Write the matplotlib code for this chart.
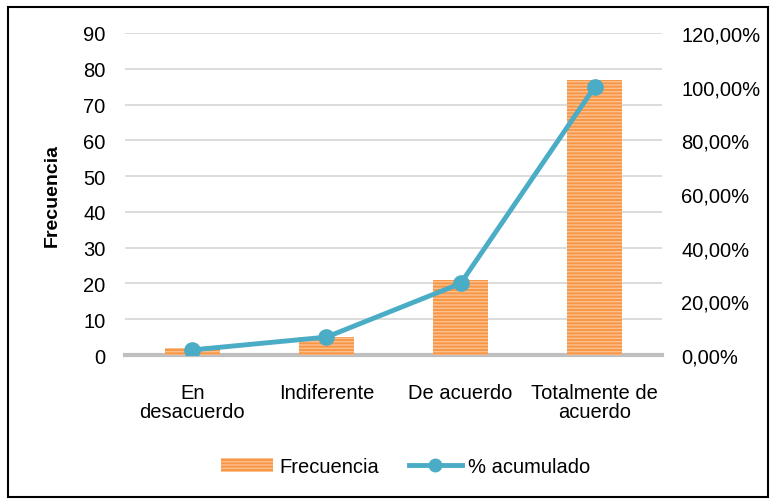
import matplotlib
matplotlib.use('Agg')
import matplotlib.pyplot as plt
from matplotlib.patches import Rectangle
from matplotlib.lines import Line2D
from matplotlib.ticker import FuncFormatter
import numpy as np

labels = ['En\ndesacuerdo', 'Indiferente', 'De acuerdo', 'Totalmente de\nacuerdo']
frecuencia = [2, 5, 21, 77]
acumulado = [1.90, 6.67, 26.67, 100.0]  # % acumulado

plt.rcParams['font.family'] = ['Liberation Sans', 'DejaVu Sans']
plt.rcParams['hatch.color'] = '#FCC08F'
plt.rcParams['hatch.linewidth'] = 1.0

orange = '#F79646'
teal = '#4BACC6'
fs = 14.5

fig = plt.figure(figsize=(7.75, 5.02), dpi=100)
ax = fig.add_axes([0.1613, 0.2908, 0.6929, 0.6415])

x = np.arange(len(labels))
ax.bar(x, frecuencia, 0.41, color=orange, hatch='-----', linewidth=0, zorder=2)
ax.set_xlim(-0.5, 3.5)
ax.set_ylim(0, 90)
ax.set_yticks(range(0, 91, 10))
ax.set_xticks(x)
ax.set_xticklabels(labels, fontsize=fs, linespacing=1.0)
ax.tick_params(axis='both', length=0, labelsize=fs, colors='black')
ax.tick_params(axis='x', pad=20)
ax.tick_params(axis='y', pad=14)
ax.grid(axis='y', color='#D9D9D9', linewidth=1.3, zorder=0)
ax.set_axisbelow(True)
for s in ['top', 'right', 'left']:
    ax.spines[s].set_visible(False)
ax.spines['bottom'].set_color('#BFBFBF')
ax.spines['bottom'].set_linewidth(3)
ax.spines['bottom'].set_zorder(1)
ax.set_ylabel('Frecuencia', fontsize=14, fontweight='bold', labelpad=16)

ax2 = ax.twinx()
ax2.plot(x, acumulado, color=teal, linewidth=3.5, marker='o', markersize=11, zorder=5)
ax2.set_ylim(0, 120)
ax2.set_yticks(range(0, 121, 20))
ax2.yaxis.set_major_formatter(FuncFormatter(lambda v, p: '{:.2f}%'.format(v).replace('.', ',')))
ax2.tick_params(axis='y', length=0, labelsize=fs, pad=14)
for s in ['top', 'right', 'left', 'bottom']:
    ax2.spines[s].set_visible(False)

handles = [Rectangle((0, 0), 1, 1, facecolor=orange, hatch='-----', linewidth=0),
           Line2D([0], [0], color=teal, linewidth=3.5, marker='o', markersize=9)]
fig.legend(handles, ['Frecuencia', '% acumulado'], loc='center', bbox_to_anchor=(0.523, 0.068),
           ncol=2, frameon=False, fontsize=fs, handlelength=2.6, columnspacing=1.5,
           handletextpad=0.3)

fig.patches.append(Rectangle((8 / 775, 4 / 502), 760 / 775, 490 / 502, transform=fig.transFigure,
                             fill=False, edgecolor='black', linewidth=1.5))

fig.savefig('out.png', dpi=100)
